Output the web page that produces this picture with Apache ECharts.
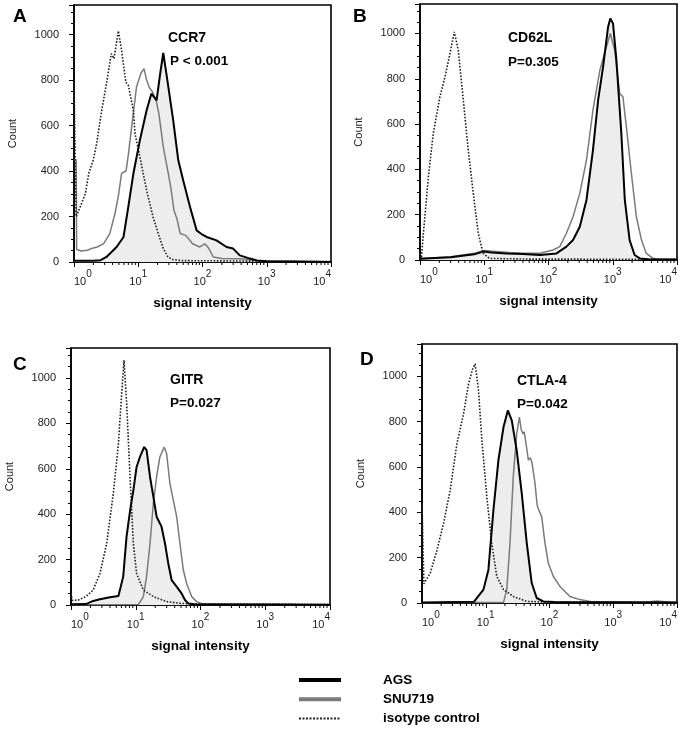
<!DOCTYPE html>
<html><head><meta charset="utf-8">
<script src="https://cdn.jsdelivr.net/npm/echarts@6/dist/echarts.min.js"></script>
<style>html,body{margin:0;padding:0;background:#fff}#c{width:685px;height:734px}</style>
</head><body><div id="c"></div>
<script>
// ---------- DATA (signal intensity, count) ----------
const A_iso = [[1,790],[1.07,790],[1.08,200],[1.2,230],[1.5,300],[1.7,390],[2,450],[2.25,520],[2.7,667],[3.2,784],[3.8,916],[4.2,894],[4.9,1016],[5.5,931],[6.4,791],[7,777],[8.4,667],[8.9,565],[10.6,462],[13.5,315],[17,198],[20.5,125],[24.5,59],[29,22],[35,10],[50,6],[200,5],[1000,3],[10000,2]];
const A_snu = [[1,450],[1.08,450],[1.1,55],[1.3,48],[1.6,52],[2,62],[2.3,66],[2.9,81],[3.6,125],[4.35,213],[4.9,290],[5.5,390],[6.45,400],[7,470],[7.9,594],[9.4,770],[11,830],[12.3,850],[13.5,800],[15,765],[16.5,750],[19,711],[21,650],[24.5,506],[28,420],[32,330],[36,227],[40,190],[45,125],[55,117],[70,80],[91,66],[109,80],[125,60],[147,22],[200,15],[400,14],[600,8],[1000,3],[10000,1]];
const A_ags = [[1,5],[2,5],[2.6,8],[3.2,22],[4.6,66],[5.9,110],[7,242],[8.4,389],[10.6,535],[13.5,667],[16,740],[17,748],[19.3,711],[22,830],[24.5,919],[27,840],[29.4,770],[35,623],[42,447],[50,359],[64,242],[81,139],[100,120],[116,110],[165,95],[237,66],[300,59],[380,29],[550,15],[700,7],[1000,3],[10000,0]];

const B_iso = [[1,30],[1.05,8],[1.13,118],[1.35,368],[1.61,559],[2.04,720],[2.45,809],[2.93,912],[3.42,1007],[3.94,926],[4.72,706],[5.64,485],[6.75,294],[8.07,118],[9.6,29],[12,7],[50,4],[10000,3]];
const B_snu = [[1,5],[3,14],[7,30],[10,42],[15,38],[25,33],[40,30],[74,30],[118,44],[150,59],[190,118],[241,191],[307,294],[390,441],[492,662],[630,838],[760,920],[916,1000],[1075,926],[1280,735],[1440,720],[1630,588],[1950,382],[2330,191],[2800,88],[3330,29],[4250,7],[5000,3],[10000,2]];
const B_ags = [[1,5],[3,12],[7,25],[9.6,37],[13,33],[22,29],[40,26],[74,22],[133,29],[190,59],[241,88],[307,147],[390,265],[492,485],[592,706],[707,853],[846,1029],[916,1066],[1010,1044],[1140,882],[1360,559],[1540,265],[1830,88],[2190,22],[2640,7],[3500,3],[10000,2]];

const C_iso = [[1,51],[1.05,20],[1.3,22],[1.7,37],[2.2,66],[2.8,139],[3.56,271],[4.5,491],[5.4,711],[6.06,931],[6.58,1078],[7.24,887],[8.15,565],[9.18,271],[10.3,139],[13.1,66],[18.7,37],[30,15],[50,7],[100,4],[10000,2]];
const C_snu = [[1,1],[11,2],[13.1,37],[14.7,125],[16.6,271],[18.7,447],[21,565],[23.6,652],[27.5,696],[30,667],[33.7,535],[38,462],[42.8,389],[48.2,271],[54.3,154],[61,95],[73,37],[87,15],[110,4],[10000,1]];
const C_ags = [[1,3],[1.7,4],[2.2,18],[2.8,25],[4,34],[5.4,40],[6.4,125],[7.2,300],[8.2,418],[9.2,506],[10.3,608],[11.6,652],[13.5,696],[14.7,682],[16.6,565],[18.7,477],[21,389],[25,345],[28.3,271],[31.8,183],[35.8,110],[42.8,81],[51,51],[57.6,22],[65,7],[80,3],[10000,1]];

const D_iso = [[1,440],[1.06,440],[1.07,85],[1.35,132],[1.72,234],[2.18,351],[2.77,498],[3.53,703],[4.49,835],[5.37,966],[6.2,1030],[6.83,1054],[7.7,937],[8.7,717],[10.4,469],[12.4,264],[14.9,117],[19,59],[27,29],[44,7],[100,4],[10000,2]];
const D_snu = [[1,1],[19,3],[21.4,59],[24,264],[27,556],[30.6,747],[33.7,820],[36,765],[38.5,745],[40,755],[43,700],[46.6,630],[50,640],[53,620],[59.3,527],[64,430],[69,405],[75.4,381],[85,264],[95.6,176],[115,117],[146,73],[209,29],[300,15],[450,6],[700,2],[2900,2],[3000,9],[4800,9],[5000,2],[10000,1]];
const D_ags = [[1,2],[6.5,5],[9.2,59],[11,146],[13.2,410],[15.8,630],[19,776],[22.2,849],[25.6,805],[30.6,673],[36.7,483],[44,264],[52.6,88],[63,22],[80,7],[120,4],[10000,2]];

const panelLetters = ['A','B','C','D'];
const markers = ['CCR7','CD62L','GITR','CTLA-4'];
const pValues = ['P < 0.001','P=0.305','P=0.027','P=0.042'];
const seriesNames = ['AGS','SNU719','isotype control'];
const xTickValues = [1,10,100,1000,10000];
const minorTickMultipliers = [2,3,4,5,6,7,8,9];
const yLabelStep = 200;

const panelData = [
  {ags:A_ags, snu:A_snu, iso:A_iso},
  {ags:B_ags, snu:B_snu, iso:B_iso},
  {ags:C_ags, snu:C_snu, iso:C_iso},
  {ags:D_ags, snu:D_snu, iso:D_iso}
];

// ---------- LAYOUT ----------
const FONT = "'Liberation Sans', Arial, sans-serif";
const gridBoxes = [
  {left:74, top:5, width:257, height:257},
  {left:420, top:4, width:257, height:256},
  {left:71, top:348, width:259, height:257},
  {left:422, top:344, width:255, height:259}
];
const yMaxes = [1130,1130,1132,1142];
const letterPos = [[13,17],[353,17],[13,365],[360,360]];
const markerPos = [[168,38],[508,38],[170,380],[517,381]];
const pPos = [[170,61],[508,62],[170,403],[517,404]];

// minor tick positions on the log axis (2..9 x each decade)
const minorTicks = [];
for (let d = 0; d < xTickValues.length - 1; d++) {
  minorTickMultipliers.forEach(k => minorTicks.push([k * xTickValues[d], 0]));
}

const grid = [], xAxis = [], yAxis = [], series = [], graphic = [];
gridBoxes.forEach((g, i) => {
  grid.push(Object.assign({show:true, borderColor:'#000', borderWidth:1.6, backgroundColor:'transparent', containLabel:false}, g));
  xAxis.push({
    type:'log', logBase:10, min:1, max:10000, gridIndex:i,
    axisLine:{show:true, lineStyle:{color:'#000', width:1.6}},
    axisTick:{show:true, inside:false, length:5, lineStyle:{color:'#000', width:1}},
    minorTick:{show:false}, splitLine:{show:false},
    axisLabel:{
      margin:7, showMinLabel:true, showMaxLabel:true,
      alignMinLabel:'left', alignMaxLabel:'right',
      formatter: v => '{b|10}{s|' + Math.round(Math.log10(v)) + '}',
      rich:{
        b:{fontSize:11, color:'#222', fontFamily:FONT, verticalAlign:'bottom', lineHeight:18},
        s:{fontSize:10, color:'#222', fontFamily:FONT, verticalAlign:'top', lineHeight:18}
      }
    },
    name:'signal intensity', nameLocation:'middle', nameGap:34,
    nameTextStyle:{fontWeight:'bold', fontSize:13.5, color:'#000', fontFamily:FONT}
  });
  yAxis.push({
    type:'value', min:0, max:yMaxes[i], interval:yLabelStep, gridIndex:i,
    axisLine:{show:true, lineStyle:{color:'#000', width:1.6}},
    axisTick:{show:true, inside:false, length:5, lineStyle:{color:'#000', width:1}},
    minorTick:{show:true, splitNumber:4, length:3, lineStyle:{color:'#000', width:1}},
    splitLine:{show:false}, minorSplitLine:{show:false},
    axisLabel:{fontSize:11, color:'#222', fontFamily:FONT, margin:15,
      formatter: v => (v % yLabelStep === 0 ? String(v) : '')},
    name:'Count', nameLocation:'middle', nameGap:56,
    nameTextStyle:{fontSize:11, color:'#222', fontFamily:FONT}
  });
  const d = panelData[i];
  series.push({
    type:'line', name:'AGS fill', xAxisIndex:i, yAxisIndex:i, data:d.ags,
    symbol:'none', silent:true, z:1, lineStyle:{width:0, opacity:0},
    areaStyle:{color:'#ededed', opacity:1}
  });
  series.push({
    type:'line', name:seriesNames[1], xAxisIndex:i, yAxisIndex:i, data:d.snu,
    symbol:'none', z:2, color:'#7a7a7a', lineStyle:{color:'#7a7a7a', width:1.5}
  });
  series.push({
    type:'line', name:seriesNames[2], xAxisIndex:i, yAxisIndex:i, data:d.iso,
    symbol:'none', z:2, color:'#222', lineStyle:{color:'#222', width:1.6, type:[1.6,1.6]}
  });
  series.push({
    type:'line', name:seriesNames[0], xAxisIndex:i, yAxisIndex:i, data:d.ags,
    symbol:'none', z:3, color:'#000', lineStyle:{color:'#000', width:2}
  });
  series.push({
    type:'custom', name:'minor', xAxisIndex:i, yAxisIndex:i, data:minorTicks,
    silent:true, clip:false, z:4,
    renderItem:(params, api) => {
      const p = api.coord([api.value(0), 0]);
      return {type:'line', shape:{x1:p[0], y1:p[1], x2:p[0], y2:p[1] + 3}, style:{stroke:'#000', lineWidth:1}};
    }
  });
  graphic.push({type:'text', style:{text:panelLetters[i], x:letterPos[i][0], y:letterPos[i][1], font:'bold 19px ' + FONT, fill:'#000', align:'left', verticalAlign:'middle', textAlign:'left', textVerticalAlign:'middle'}});
  graphic.push({type:'text', style:{text:markers[i], x:markerPos[i][0], y:markerPos[i][1], font:'bold 14px ' + FONT, fill:'#000', align:'left', verticalAlign:'middle', textAlign:'left', textVerticalAlign:'middle'}});
  graphic.push({type:'text', style:{text:pValues[i], x:pPos[i][0], y:pPos[i][1], font:'bold 13.5px ' + FONT, fill:'#000', align:'left', verticalAlign:'middle', textAlign:'left', textVerticalAlign:'middle'}});
});

const chart = echarts.init(document.getElementById('c'), null, {renderer:'canvas'});
chart.setOption({
  animation:false,
  backgroundColor:'#fff',
  grid, xAxis, yAxis, series, graphic,
  legend:{
    orient:'vertical', left:297, top:673, padding:0,
    itemWidth:42, itemHeight:14, itemGap:5.3, selectedMode:false,
    itemStyle:{opacity:0},
    data:[
      {name:seriesNames[0], itemStyle:{opacity:0}, lineStyle:{width:4, color:'#000'}},
      {name:seriesNames[1], itemStyle:{opacity:0}, lineStyle:{width:4, color:'#7a7a7a'}},
      {name:seriesNames[2], itemStyle:{opacity:0}, lineStyle:{width:2, color:'#222', type:[2,1.5]}}
    ],
    textStyle:{fontWeight:'bold', fontSize:13.5, color:'#000', fontFamily:FONT, padding:[0,0,0,37]}
  }
});
</script></body></html>
